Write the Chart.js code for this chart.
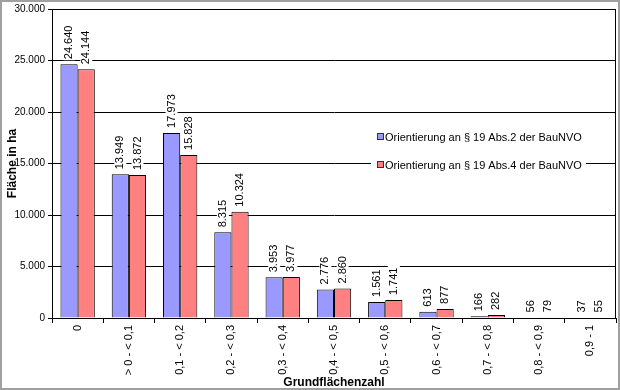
<!DOCTYPE html>
<html>
<head>
<meta charset="utf-8">
<script src="https://cdn.jsdelivr.net/npm/chart.js@4.4.0/dist/chart.umd.min.js"></script>
<style>
  html, body { margin: 0; padding: 0; background: #fff; }
  #wrap { width: 620px; height: 390px; position: relative; }
</style>
</head>
<body>
<div id="wrap"><canvas id="gfzChart" width="620" height="390"></canvas></div>
<script>
// categories (Grundflächenzahl classes)
const categories = ['0', '> 0 - < 0,1', '0,1 - < 0,2', '0,2 - < 0,3', '0,3 - < 0,4', '0,4 - < 0,5',
    '0,5 - < 0,6', '0,6 - < 0,7', '0,7 - < 0,8', '0,8 - < 0,9', '0,9 - 1'];
// series values in ha
const abs2Values = [24640, 13949, 17973, 8315, 3953, 2776, 1561, 613, 166, 56, 37];
const abs4Values = [24144, 13872, 15828, 10324, 3977, 2860, 1741, 877, 282, 79, 55];
const seriesNames = ['Orientierung an § 19 Abs.2 der BauNVO', 'Orientierung an § 19 Abs.4 der BauNVO'];
const yTicks = [0, 5000, 10000, 15000, 20000, 25000, 30000];

const FONT = 'Liberation Sans, Arial, sans-serif';

function fmt(v) {
    return String(v).replace(/\B(?=(\d{3})+(?!\d))/g, '.');
}

// value labels above each bar, rotated, with white background
const valueLabels = {
    id: 'valueLabels',
    afterDatasetsDraw(chart) {
        const ctx = chart.ctx;
        ctx.save();
        ctx.font = '11px ' + FONT;
        chart.data.datasets.forEach((ds, i) => {
            chart.getDatasetMeta(i).data.forEach((bar, j) => {
                const txt = fmt(ds.data[j]);
                const w = ctx.measureText(txt).width;
                ctx.save();
                ctx.translate(bar.x, bar.y - 5);
                ctx.rotate(-Math.PI / 2);
                ctx.fillStyle = '#fff';
                ctx.fillRect(-1, -6, w + 3, 12);
                ctx.fillStyle = '#000';
                ctx.textAlign = 'left';
                ctx.textBaseline = 'middle';
                ctx.fillText(txt, 0, 0);
                ctx.restore();
            });
        });
        ctx.restore();
    }
};

// legend inside the plot area + plot frame + outer border
const frameAndLegend = {
    id: 'frameAndLegend',
    afterDraw(chart) {
        const ctx = chart.ctx;
        const a = chart.chartArea;
        ctx.save();
        ctx.strokeStyle = '#000';
        ctx.lineWidth = 1;
        ctx.strokeRect(a.left + 0.5, a.top + 0.5, a.right - a.left - 1, a.bottom - a.top);

        ctx.font = '11px ' + FONT;
        const colors = ['#9999FF', '#FF8080'];
        const ys = [137, 165];
        seriesNames.forEach((name, i) => {
            const x = 377;
            const w = ctx.measureText(name).width;
            ctx.fillStyle = '#fff';
            ctx.fillRect(x - 6, ys[i] - 7, w + 18, 14);
            ctx.fillStyle = colors[i];
            ctx.fillRect(x, ys[i] - 3, 6, 6);
            ctx.strokeStyle = '#333';
            ctx.strokeRect(x + 0.5, ys[i] - 3.5, 6, 6);
            ctx.fillStyle = '#000';
            ctx.textBaseline = 'middle';
            ctx.fillText(name, x + 8, ys[i] + 1);
        });

        ctx.strokeStyle = '#a0a0a0';
        ctx.lineWidth = 2;
        ctx.strokeRect(1, 1, chart.width - 2, chart.height - 2);
        ctx.restore();
    }
};

const ctx = document.querySelector('#gfzChart').getContext('2d');
const chart = new Chart(ctx, {
    type: 'bar',
    data: {
        labels: categories,
        datasets: [{
            label: seriesNames[0],
            data: abs2Values,
            backgroundColor: '#9999FF',
            borderColor: '#000',
            borderWidth: 1,
            categoryPercentage: 0.67,
            barPercentage: 1.0
        }, {
            label: seriesNames[1],
            data: abs4Values,
            backgroundColor: '#FF8080',
            borderColor: '#000',
            borderWidth: 1,
            categoryPercentage: 0.67,
            barPercentage: 1.0
        }]
    },
    options: {
        responsive: false,
        animation: false,
        layout: { padding: { top: 9, right: 4, left: 0, bottom: 0 } },
        scales: {
            x: {
                afterFit: scale => { scale.height = 72; },
                grid: {
                    drawOnChartArea: false,
                    color: '#000',
                    tickLength: 5,
                    offset: true
                },
                border: { color: '#000' },
                ticks: {
                    color: '#000',
                    minRotation: 90,
                    maxRotation: 90,
                    autoSkip: false,
                    padding: 2,
                    font: { family: FONT, size: 11 }
                },
                title: {
                    display: true,
                    text: 'Grundflächenzahl',
                    color: '#000',
                    padding: { top: 0, bottom: 0 },
                    font: { family: FONT, size: 12, weight: 'bold' }
                }
            },
            y: {
                min: 0,
                max: 30000,
                afterFit: scale => { scale.width = 52; },
                afterBuildTicks: scale => { scale.ticks = yTicks.map(v => ({ value: v })); },
                grid: {
                    color: '#000',
                    tickLength: 4
                },
                border: { color: '#000' },
                ticks: {
                    color: '#000',
                    padding: 3,
                    font: { family: FONT, size: 10 },
                    callback: v => fmt(v)
                },
                title: {
                    display: true,
                    text: 'Fläche in ha',
                    color: '#000',
                    padding: { top: 5, bottom: 0 },
                    font: { family: FONT, size: 12, weight: 'bold' }
                }
            }
        },
        plugins: {
            legend: { display: false },
            tooltip: { enabled: false }
        }
    },
    plugins: [valueLabels, frameAndLegend]
});
</script>
</body>
</html>
